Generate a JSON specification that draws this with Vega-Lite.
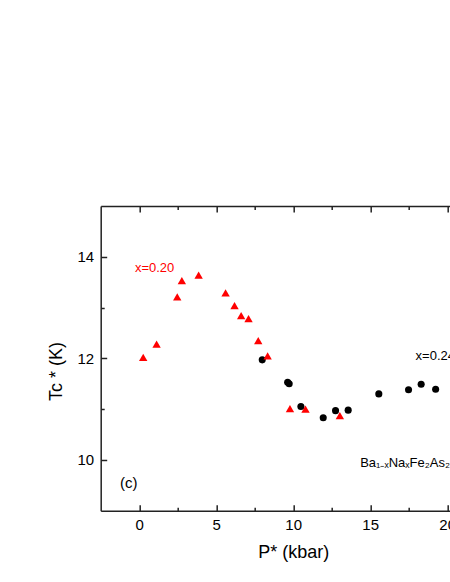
{
  "$schema": "https://vega.github.io/schema/vega-lite/v6.json",
  "width": 385,
  "height": 304.7,
  "autosize": "none",
  "padding": {"left": 100.7, "top": 206, "right": 0, "bottom": 72},
  "background": "white",
  "config": {
    "view": {"stroke": null},
    "font": "Liberation Sans",
    "axis": {
      "grid": false,
      "domainColor": "#222222",
      "domainWidth": 1.5,
      "tickColor": "#222222",
      "tickWidth": 1.5,
      "labelFont": "Liberation Sans",
      "labelFontSize": 15,
      "labelColor": "#000000",
      "labelFlush": false,
      "labelOverlap": false,
      "titleFont": "Liberation Sans",
      "titleFontSize": 18,
      "titleFontWeight": "normal",
      "titleColor": "#000000"
    }
  },
  "layer": [
    {
      "data": {"values": [
        {"P": 7.99, "T": 11.97},
        {"P": 9.64, "T": 11.53},
        {"P": 9.74, "T": 11.50},
        {"P": 10.5, "T": 11.05},
        {"P": 11.95, "T": 10.83},
        {"P": 12.75, "T": 10.97},
        {"P": 13.57, "T": 10.98},
        {"P": 15.56, "T": 11.30},
        {"P": 17.49, "T": 11.38},
        {"P": 18.31, "T": 11.49},
        {"P": 19.25, "T": 11.39}
      ]},
      "mark": {"type": "point", "shape": "circle", "filled": true, "color": "#000000", "size": 50, "opacity": 1},
      "encoding": {
        "x": {
          "field": "P", "type": "quantitative",
          "scale": {"domain": [-2.5, 22.5], "nice": false, "zero": false},
          "axis": {
            "orient": "bottom",
            "title": "P* (kbar)",
            "values": [0, 2.5, 5, 7.5, 10, 12.5, 15, 17.5, 20],
            "labelExpr": "datum.value % 5 === 0 ? datum.label : ''",
            "tickSize": {"condition": {"test": "datum.value % 5 === 0", "value": -6}, "value": -3.5},
            "labelPadding": 13,
            "titlePadding": 8
          }
        },
        "y": {
          "field": "T", "type": "quantitative",
          "scale": {"domain": [9, 15], "nice": false, "zero": false},
          "axis": {
            "orient": "left",
            "title": "Tc * (K)",
            "titleY": 165,
            "values": [10, 11, 12, 13, 14],
            "labelExpr": "datum.value % 2 === 0 ? datum.label : ''",
            "tickSize": {"condition": {"test": "datum.value % 2 === 0", "value": -6}, "value": -3.5},
            "labelPadding": 13,
            "titlePadding": 12
          }
        }
      }
    },
    {
      "data": {"values": [
        {"P": 0.26, "T": 12.02},
        {"P": 1.13, "T": 12.28},
        {"P": 2.47, "T": 13.21},
        {"P": 2.77, "T": 13.53},
        {"P": 3.86, "T": 13.64},
        {"P": 5.61, "T": 13.29},
        {"P": 6.19, "T": 13.04},
        {"P": 6.62, "T": 12.84},
        {"P": 7.10, "T": 12.78},
        {"P": 7.73, "T": 12.35},
        {"P": 8.34, "T": 12.05},
        {"P": 9.79, "T": 11.01},
        {"P": 10.8, "T": 11.0},
        {"P": 13.03, "T": 10.87}
      ]},
      "mark": {"type": "point", "shape": "triangle-up", "filled": true, "color": "#ff0000", "size": 70, "opacity": 1},
      "encoding": {
        "x": {
          "field": "P", "type": "quantitative",
          "axis": {
            "orient": "top",
            "title": null,
            "labels": false,
            "values": [0, 2.5, 5, 7.5, 10, 12.5, 15, 17.5, 20],
            "tickSize": {"condition": {"test": "datum.value % 5 === 0", "value": -6}, "value": -3.5}
          }
        },
        "y": {
          "field": "T", "type": "quantitative",
          "axis": {
            "orient": "right",
            "title": null,
            "labels": false,
            "values": [10, 11, 12, 13, 14],
            "tickSize": {"condition": {"test": "datum.value % 2 === 0", "value": -6}, "value": -3.5}
          }
        }
      }
    },
    {
      "data": {"values": [
        {"label": "x=0.20", "P": -0.28, "T": 13.77}
      ]},
      "mark": {"type": "text", "align": "left", "baseline": "middle", "fontSize": 13, "color": "#ff0000", "font": "Liberation Sans"},
      "encoding": {
        "x": {"field": "P", "type": "quantitative", "axis": null},
        "y": {"field": "T", "type": "quantitative", "axis": null},
        "text": {"field": "label"}
      }
    },
    {
      "data": {"values": [
        {"label": "x=0.24", "P": 17.95, "T": 12.04},
        {"label": "Ba₁₋ₓNaₓFe₂As₂", "P": 14.35, "T": 9.93}
      ]},
      "mark": {"type": "text", "align": "left", "baseline": "middle", "fontSize": 13, "color": "#000000", "font": "Liberation Sans"},
      "encoding": {
        "x": {"field": "P", "type": "quantitative", "axis": null},
        "y": {"field": "T", "type": "quantitative", "axis": null},
        "text": {"field": "label"}
      }
    },
    {
      "data": {"values": [
        {"label": "(c)", "P": -1.25, "T": 9.54}
      ]},
      "mark": {"type": "text", "align": "left", "baseline": "middle", "fontSize": 15, "color": "#000000", "font": "Liberation Sans"},
      "encoding": {
        "x": {"field": "P", "type": "quantitative", "axis": null},
        "y": {"field": "T", "type": "quantitative", "axis": null},
        "text": {"field": "label"}
      }
    }
  ]
}
